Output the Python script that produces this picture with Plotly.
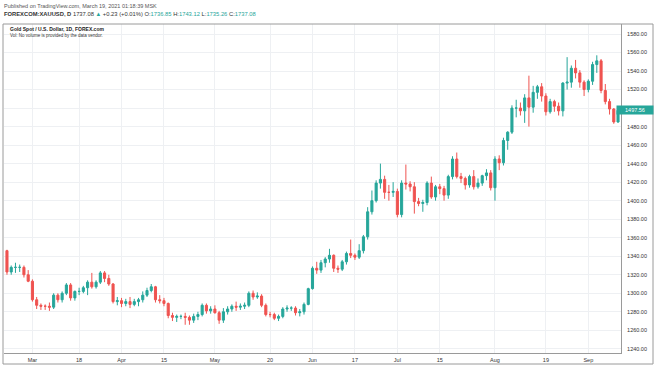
import pandas as pd
import plotly.graph_objects as go

# ---------------- data ----------------
dates = pd.bdate_range("2019-02-21", "2019-09-11").strftime("%Y-%m-%d").tolist()

opens = [1346, 1323, 1328, 1328, 1328, 1320, 1313, 1293, 1287, 1286,
         1286, 1285, 1298, 1293, 1300, 1309, 1295, 1302, 1302, 1306,
         1312, 1307, 1312, 1322, 1316, 1310, 1291, 1292, 1289, 1291,
         1288, 1291, 1293, 1298, 1303, 1307, 1293, 1292, 1289, 1276,
         1274, 1275, 1275, 1274, 1271, 1275, 1277, 1287, 1281, 1283,
         1279, 1271, 1280, 1283, 1286, 1285, 1286, 1287, 1300, 1296,
         1297, 1287, 1277, 1277, 1273, 1275, 1283, 1284, 1284, 1279,
         1280, 1288, 1305, 1327, 1325, 1333, 1337, 1341, 1327, 1326,
         1334, 1343, 1341, 1339, 1346, 1361, 1388, 1400, 1419, 1423,
         1409, 1409, 1410, 1385, 1419, 1418, 1415, 1399, 1397, 1398,
         1419, 1404, 1415, 1413, 1406, 1426, 1445, 1426, 1424, 1417,
         1426, 1415, 1419, 1427, 1430, 1414, 1445, 1441, 1465, 1474,
         1500, 1500, 1497, 1511, 1501, 1517, 1523, 1513, 1496, 1507,
         1502, 1497, 1527, 1528, 1543, 1538, 1528, 1520, 1529, 1547,
         1551, 1519, 1507, 1499, 1485]
highs = [1347, 1330, 1333, 1331, 1330, 1325, 1315, 1296, 1289, 1288,
         1290, 1300, 1300, 1302, 1311, 1311, 1303, 1306, 1308, 1314,
         1322, 1314, 1324, 1324, 1320, 1311, 1296, 1295, 1294, 1296,
         1294, 1295, 1302, 1306, 1310, 1308, 1298, 1295, 1290, 1279,
         1277, 1277, 1279, 1276, 1278, 1280, 1289, 1289, 1286, 1287,
         1281, 1284, 1286, 1288, 1291, 1289, 1290, 1302, 1303, 1301,
         1299, 1289, 1280, 1279, 1277, 1285, 1287, 1286, 1286, 1283,
         1290, 1306, 1329, 1334, 1336, 1339, 1348, 1342, 1330, 1336,
         1345, 1358, 1343, 1353, 1363, 1393, 1411, 1422, 1440, 1427,
         1417, 1420, 1413, 1422, 1439, 1421, 1420, 1403, 1401, 1421,
         1426, 1417, 1418, 1416, 1428, 1448, 1452, 1430, 1426, 1428,
         1433, 1424, 1428, 1434, 1433, 1448, 1449, 1468, 1475, 1503,
         1509, 1506, 1515, 1535, 1524, 1525, 1527, 1516, 1510, 1509,
         1506, 1528, 1555, 1546, 1552, 1541, 1530, 1531, 1550, 1557,
         1553, 1526, 1510, 1500, 1499]
lows = [1320, 1320, 1322, 1323, 1317, 1312, 1291, 1283, 1282, 1282,
        1281, 1283, 1290, 1290, 1298, 1292, 1292, 1298, 1300, 1298,
        1305, 1305, 1310, 1312, 1308, 1289, 1287, 1285, 1286, 1284,
        1286, 1286, 1290, 1296, 1301, 1290, 1289, 1286, 1273, 1270,
        1269, 1272, 1266, 1266, 1268, 1271, 1275, 1278, 1278, 1278,
        1267, 1268, 1277, 1280, 1281, 1282, 1283, 1285, 1293, 1294,
        1285, 1275, 1274, 1271, 1270, 1273, 1280, 1281, 1276, 1275,
        1277, 1287, 1304, 1321, 1322, 1328, 1333, 1323, 1322, 1324,
        1331, 1338, 1336, 1337, 1343, 1358, 1385, 1398, 1413, 1402,
        1400, 1404, 1382, 1382, 1412, 1410, 1386, 1394, 1388, 1395,
        1402, 1400, 1407, 1400, 1402, 1423, 1424, 1419, 1412, 1414,
        1412, 1413, 1416, 1422, 1411, 1400, 1433, 1438, 1455, 1472,
        1490, 1492, 1484, 1480, 1495, 1510, 1507, 1492, 1494, 1496,
        1492, 1491, 1520, 1522, 1532, 1522, 1513, 1517, 1525, 1538,
        1516, 1504, 1493, 1483, 1484]
closes = [1323, 1328, 1328, 1328, 1320, 1313, 1293, 1287, 1286, 1286,
          1285, 1298, 1293, 1300, 1309, 1295, 1302, 1302, 1306, 1312,
          1307, 1312, 1322, 1316, 1310, 1291, 1292, 1289, 1291, 1288,
          1291, 1293, 1298, 1303, 1307, 1293, 1292, 1289, 1276, 1274,
          1275, 1275, 1274, 1271, 1275, 1277, 1287, 1281, 1283, 1279,
          1271, 1280, 1283, 1286, 1285, 1286, 1287, 1300, 1296, 1297,
          1287, 1277, 1277, 1273, 1275, 1283, 1284, 1284, 1279, 1280,
          1288, 1305, 1327, 1325, 1333, 1337, 1341, 1327, 1326, 1334,
          1343, 1341, 1339, 1346, 1361, 1388, 1400, 1419, 1423, 1409,
          1409, 1410, 1385, 1419, 1418, 1415, 1399, 1397, 1398, 1419,
          1404, 1415, 1413, 1406, 1426, 1445, 1426, 1424, 1417, 1426,
          1415, 1419, 1427, 1430, 1414, 1445, 1441, 1465, 1474, 1500,
          1500, 1497, 1511, 1501, 1517, 1523, 1513, 1496, 1507, 1502,
          1497, 1527, 1528, 1543, 1538, 1528, 1520, 1529, 1547, 1551,
          1519, 1507, 1499, 1485, 1497.56]

tick_dates = ["2019-03-01", "2019-03-18", "2019-04-01", "2019-04-15", "2019-05-01",
              "2019-05-20", "2019-06-03", "2019-06-17", "2019-07-01", "2019-07-15",
              "2019-08-01", "2019-08-19", "2019-09-02"]
tick_labels = ["Mar", "18", "Apr", "15", "May", "20", "Jun", "17", "Jul", "15",
               "Aug", "19", "Sep"]
price_ticks = list(range(1240, 1581, 20))
last_price = closes[-1]

# ---------------- style ----------------
UP = "#26a69a"
DOWN = "#ef5350"
W, H = 654, 366
L, R, T, B = 4, 33, 24, 13          # plot area pixels
PW, PH = W - L - R, H - T - B
FONT = "Liberation Sans"


def px(x):
    return (x - L) / PW


def py(y):
    return (H - B - y) / PH


# the last-price badge hides the price label it sits on, as in the reference
price_text = ["" if abs(v - last_price) < 8 else f"{v:.2f}" for v in price_ticks]

fig = go.Figure(go.Candlestick(
    x=dates, open=opens, high=highs, low=lows, close=closes,
    increasing=dict(line=dict(color=UP, width=1), fillcolor=UP),
    decreasing=dict(line=dict(color=DOWN, width=1), fillcolor=DOWN),
    whiskerwidth=0, showlegend=False, hoverinfo="skip",
))

fig.update_layout(
    width=W, height=H,
    margin=dict(l=L, r=R, t=T, b=B, pad=0),
    paper_bgcolor="white", plot_bgcolor="white",
    font=dict(family=FONT, size=5.5, color="#333333"),
    xaxis=dict(
        type="category", rangeslider=dict(visible=False),
        range=[-0.7, len(dates) - 0.3],
        tickmode="array", tickvals=tick_dates, ticktext=tick_labels,
        showgrid=True, gridcolor="#eef0f3", gridwidth=1,
        showline=True, linecolor="#9a9a9a", linewidth=1,
        ticks="outside", ticklen=1, tickcolor="rgba(0,0,0,0)",
        tickfont=dict(size=5.5, color="#333333"),
        zeroline=False, fixedrange=True,
    ),
    yaxis=dict(
        side="right", range=[1235.5, 1590.8],
        tickmode="array", tickvals=price_ticks, ticktext=price_text,
        showgrid=True, gridcolor="#eef0f3", gridwidth=1,
        showline=True, linecolor="#9a9a9a", linewidth=1,
        ticks="outside", ticklen=4, tickcolor="rgba(0,0,0,0)",
        tickfont=dict(size=5.5, color="#333333"),
        zeroline=False, fixedrange=True,
    ),
)

# outer frame
fig.add_shape(type="rect", xref="paper", yref="paper",
              x0=px(3), x1=px(653), y0=py(364), y1=py(24),
              line=dict(color="#9a9a9a", width=1), fillcolor="rgba(0,0,0,0)",
              layer="above")

ann = []
ann.append(dict(x=px(2), y=py(6), text="Published on TradingView.com, March 19, 2021 01:18:39 MSK",
                font=dict(size=5.5, color="#555555")))
ann.append(dict(x=px(2), y=py(14),
                text=("<b>FOREXCOM:XAUUSD, D</b> 1737.08 "
                      f"<span style='color:{UP}'>▲</span> +0.23 (+0.01%) "
                      f"O:<span style='color:{UP}'>1736.85</span> "
                      f"H:<span style='color:{UP}'>1743.12</span> "
                      f"L:<span style='color:{UP}'>1735.26</span> "
                      f"C:<span style='color:{UP}'>1737.08</span>"),
                font=dict(size=5.8, color="#333333")))
ann.append(dict(x=px(8), y=py(29), text="<b>Gold Spot / U.S. Dollar, 1D, FOREX.com</b>",
                font=dict(size=5, color="#222222")))
ann.append(dict(x=px(8), y=py(35.5), text="Vol: No volume is provided by the data vendor.",
                font=dict(size=4.5, color="#333333")))
for a in ann:
    a.update(xref="paper", yref="paper", xanchor="left", yanchor="middle",
             showarrow=False)
    fig.add_annotation(**a)

# last price badge
fig.add_annotation(xref="paper", yref="y", x=px(635), y=last_price,
                   text=f"{last_price:.2f}", showarrow=False,
                   xanchor="center", yanchor="middle", width=34,
                   bgcolor=UP, borderpad=1,
                   font=dict(size=5.5, color="white"))

fig.write_html("out.html", config={"displayModeBar": False, "staticPlot": True},
               post_script="document.body.style.margin='0';document.body.style.overflow='hidden';")
